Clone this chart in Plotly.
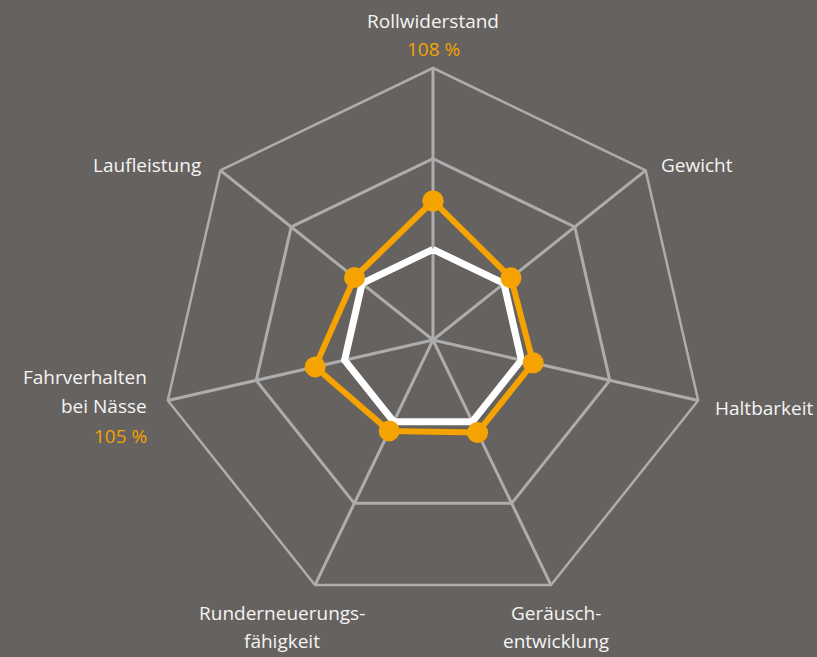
import plotly.graph_objects as go

categories = ["Rollwiderstand", "Gewicht", "Haltbarkeit", "Geräusch-entwicklung",
              "Runderneuerungs-fähigkeit", "Fahrverhalten bei Nässe", "Laufleistung"]
reference_values = [100, 100, 100, 100, 100, 100, 100]
product_values = [108, 101.5, 102, 102, 101.7, 105, 101.6]
radial_ticks = [100, 115, 130]
radial_range = [85, 130]

W, H = 817, 657
BG = "#66625f"
GRID = "#adadad"
ORANGE = "#f5a300"
TEXT = "#f4f4f4"

cx, cy, R = 433, 340, 272  # polar center / radius in pixels

def px(x, y):
    return x / W, 1 - y / H

theta = categories + [categories[0]]

fig = go.Figure()
fig.add_trace(go.Scatterpolar(
    r=reference_values + [reference_values[0]], theta=theta,
    mode="lines", line=dict(color="white", width=7), hoverinfo="skip"))
fig.add_trace(go.Scatterpolar(
    r=product_values + [product_values[0]], theta=theta,
    mode="lines+markers", line=dict(color=ORANGE, width=6),
    marker=dict(color=ORANGE, size=21), hoverinfo="skip"))

x0, y1 = px(cx - R, cy - R)
x1, y0 = px(cx + R, cy + R)

fig.update_layout(
    width=W, height=H,
    margin=dict(l=0, r=0, t=0, b=0),
    paper_bgcolor=BG,
    showlegend=False,
    polar=dict(
        domain=dict(x=[x0, x1], y=[y0, y1]),
        bgcolor=BG,
        gridshape="linear",
        radialaxis=dict(range=radial_range, tickvals=radial_ticks, showticklabels=False,
                        ticks="", showline=False, gridcolor=GRID, gridwidth=2.5),
        angularaxis=dict(rotation=90, direction="clockwise", showticklabels=False,
                         ticks="", showline=True, linecolor=GRID, linewidth=2.5,
                         gridcolor=GRID, gridwidth=2.5),
    ),
)

FONT = "Open Sans"
labels = [
    ("Rollwiderstand", 433, 21, "center", TEXT),
    ("108 %", 433, 49, "center", ORANGE),
    ("Gewicht", 659, 165, "left", TEXT),
    ("Haltbarkeit", 713, 408, "left", TEXT),
    ("Geräusch-", 556, 613, "center", TEXT),
    ("entwicklung", 556, 641, "center", TEXT),
    ("Runderneuerungs-", 282, 613, "center", TEXT),
    ("fähigkeit", 282, 641, "center", TEXT),
    ("Fahrverhalten", 149, 377, "right", TEXT),
    ("bei Nässe", 149, 406, "right", TEXT),
    ("105 %", 149, 436, "right", ORANGE),
    ("Laufleistung", 203, 165, "right", TEXT),
]
for text, x, y, anchor, color in labels:
    ax, ay = px(x, y)
    fig.add_annotation(text=text, x=ax, y=ay, xref="paper", yref="paper",
                       xanchor=anchor, yanchor="middle", showarrow=False,
                       font=dict(family=FONT, size=19, color=color))

fig.write_html("out.html")
